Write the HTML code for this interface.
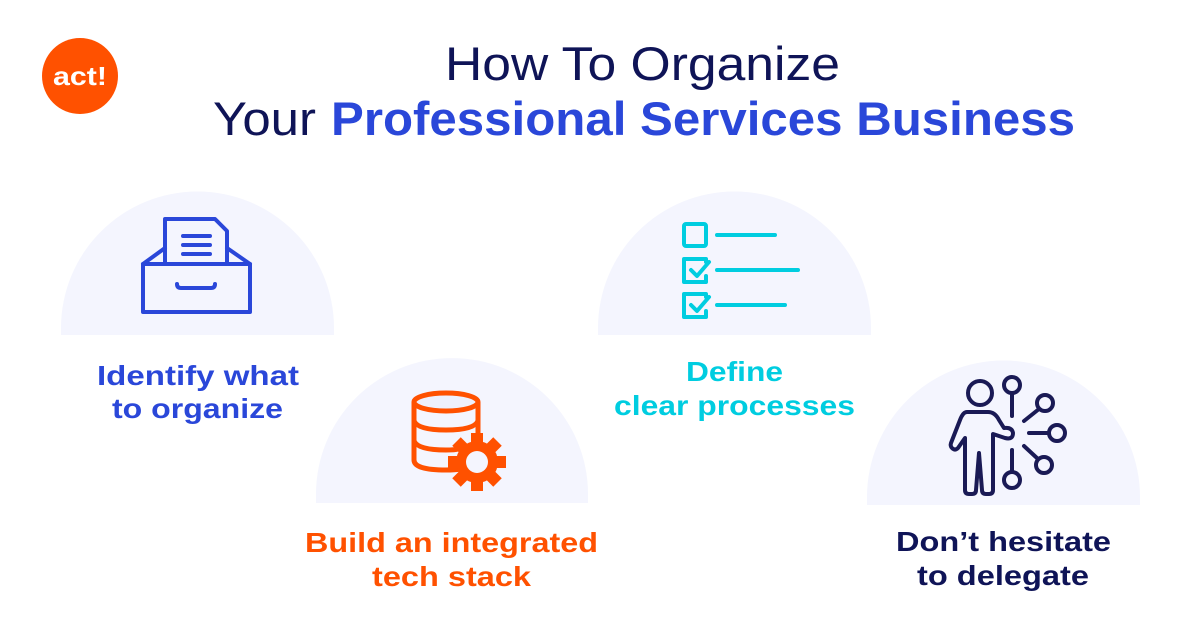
<!DOCTYPE html>
<html><head><meta charset="utf-8"><style>
html,body{margin:0;padding:0;background:#fff;}
svg{display:block;}
text{font-family:"Liberation Sans",sans-serif;font-weight:bold;}
</style></head><body>
<svg width="1200" height="630" viewBox="0 0 1200 630" xmlns="http://www.w3.org/2000/svg">
<rect width="1200" height="630" fill="#fff"/>
<!-- logo -->
<circle cx="80" cy="76" r="38" fill="#ff5100"/>
<text x="80" y="85" font-size="26" fill="#fff" text-anchor="middle" textLength="54" lengthAdjust="spacingAndGlyphs">act!</text>
<!-- title -->
<text x="445" y="80" font-size="47" fill="#0f1457" style="font-weight:normal" textLength="395" lengthAdjust="spacingAndGlyphs">How To Organize</text>
<text x="213" y="135" font-size="47" fill="#0f1457" style="font-weight:normal" textLength="103" lengthAdjust="spacingAndGlyphs">Your</text>
<text x="331" y="135" font-size="47" fill="#2a47d9" textLength="744" lengthAdjust="spacingAndGlyphs">Professional Services Business</text>
<!-- semicircles -->
<path d="M61 335 L61 328 A136.5 136.5 0 0 1 334 328 L334 335 Z" fill="#f4f5fe"/>
<path d="M316 503 L316 494 A136 136 0 0 1 588 494 L588 503 Z" fill="#f4f5fe"/>
<path d="M598 335 L598 328 A136.5 136.5 0 0 1 871 328 L871 335 Z" fill="#f4f5fe"/>
<path d="M867 505 L867 497 A136.5 136.5 0 0 1 1140 497 L1140 505 Z" fill="#f4f5fe"/>
<!-- archive icon -->
<g fill="none" stroke="#2a47d9" stroke-width="4" stroke-linejoin="round" stroke-linecap="round">
<path d="M165 263 V219 H215 L227 231 V263"/>
<rect x="143" y="264" width="107" height="48"/>
<path d="M143 264 L165 248 M250 264 L227 248"/>
<path d="M183 236 H210 M183 245 H210 M183 254 H210"/>
<path d="M177 284 Q177 288 181 288 H211 Q215 288 215 284"/>
</g>
<!-- database icon -->
<g fill="none" stroke="#ff5100" stroke-width="5">
<ellipse cx="446" cy="402" rx="32" ry="9" fill="#eef0fc"/>
<path d="M414 402 V460 Q414 470 446 470 Q455 470 460 469" />
<path d="M478 402 V438"/>
<path d="M414 421 Q418 430 446 430 Q474 430 478 421"/>
<path d="M414 441 Q418 450 446 450 Q455 450 458 449"/>
</g>
<g transform="translate(477,462)" fill="#ff5100">
<circle r="21"/>
<g id="t"><rect x="-6" y="-29" width="12" height="12"/></g>
<use href="#t" transform="rotate(45)"/><use href="#t" transform="rotate(90)"/><use href="#t" transform="rotate(135)"/>
<use href="#t" transform="rotate(180)"/><use href="#t" transform="rotate(225)"/><use href="#t" transform="rotate(270)"/><use href="#t" transform="rotate(315)"/>
<circle r="11" fill="#f4f5fe"/>
</g>
<!-- checklist -->
<g fill="none" stroke="#00cde0" stroke-width="4" stroke-linecap="round" stroke-linejoin="round">
<rect x="684" y="224" width="22" height="22" rx="2"/>
<path d="M706 262 V259 H684 V282 H706 V276"/>
<path d="M691 270 L697 276 L709 262"/>
<path d="M706 297 V294 H684 V317 H706 V311"/>
<path d="M691 305 L697 311 L709 297"/>
<path d="M717 235 H775 M717 270 H798 M717 305 H785"/>
</g>
<!-- person icon -->
<g fill="none" stroke="#1a1a55" stroke-width="4" stroke-linecap="round" stroke-linejoin="round">
<circle cx="980" cy="393" r="12"/>
<path d="M967 412 H988 Q995 412 999 420 L1004 428 Q1012 427 1013 433 Q1013 440 1005 438 L993 434 V490 Q993 494 989 494 H986 Q982 494 982 490 L979 453 L976 490 Q976 494 972 494 H969 Q965 494 965 490 V438 L958 448 Q955 451 952 448 Q950 446 951 443 L960 420 Q963 412 967 412 Z"/>
<circle cx="1012" cy="385" r="8"/><path d="M1012 393 V416"/>
<circle cx="1045" cy="403" r="8"/><path d="M1024 421 L1039 409"/>
<circle cx="1057" cy="433" r="8"/><path d="M1029 433 H1049"/>
<circle cx="1044" cy="465" r="8"/><path d="M1024 446 L1038 459"/>
<circle cx="1012" cy="480" r="8"/><path d="M1012 450 V472"/>
</g>
<!-- labels -->
<g font-size="28">
<text x="97" y="385" fill="#2a47d9" textLength="202" lengthAdjust="spacingAndGlyphs">Identify what</text>
<text x="112" y="418" fill="#2a47d9" textLength="171" lengthAdjust="spacingAndGlyphs">to organize</text>
<text x="305" y="552" fill="#ff5100" textLength="293" lengthAdjust="spacingAndGlyphs">Build an integrated</text>
<text x="372" y="586" fill="#ff5100" textLength="159" lengthAdjust="spacingAndGlyphs">tech stack</text>
<text x="686" y="381" fill="#00cde0" textLength="97" lengthAdjust="spacingAndGlyphs">Define</text>
<text x="614" y="415" fill="#00cde0" textLength="241" lengthAdjust="spacingAndGlyphs">clear processes</text>
<text x="896" y="551" fill="#0f1457" textLength="215" lengthAdjust="spacingAndGlyphs">Don’t hesitate</text>
<text x="917" y="585" fill="#0f1457" textLength="172" lengthAdjust="spacingAndGlyphs">to delegate</text>
</g>
</svg>
</body></html>
